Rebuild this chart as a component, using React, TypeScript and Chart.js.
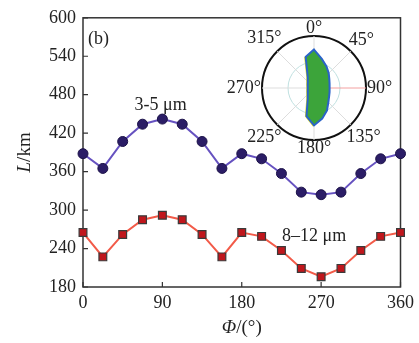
import React, { useEffect, useRef } from 'react';
import { Chart, registerables } from 'chart.js';

Chart.register(...registerables);

// ---- data ----
const PHI = [0, 22.5, 45, 67.5, 90, 112.5, 135, 157.5, 180, 202.5, 225, 247.5, 270, 292.5, 315, 337.5, 360];
const L_3_5 = [388, 365, 407, 434, 442, 434, 407, 365, 388, 380, 357, 328, 324, 328, 357, 380, 388];
const L_8_12 = [265, 227, 262, 285, 292, 285, 262, 227, 265, 259, 237, 209, 196, 209, 237, 259, 265];
const X_TICKS = [0, 90, 180, 270, 360];
const Y_TICKS = [180, 240, 300, 360, 420, 480, 540, 600];
const SERIES_NAMES = ['3-5 μm', '8–12 μm'];
const SERIES_LABEL_POS = [
  { x: 88, y: 463 },
  { x: 262, y: 259 },
];
const PANEL_TAG = '(b)';

// inset polar plot (radius normalised to outer circle), 15° steps clockwise from 0°
const INSET_LABELS = [
  '0°', '', '', '45°', '', '', '90°', '', '', '135°', '', '',
  '180°', '', '', '225°', '', '', '270°', '', '', '315°', '', '',
];
const INSET_R = [
  0.74, 0.58, 0.48, 0.40, 0.34, 0.31, 0.30, 0.31, 0.335, 0.39, 0.50, 0.61,
  0.72, 0.56, 0.24, 0.17, 0.14, 0.125, 0.12, 0.125, 0.14, 0.17, 0.24, 0.62,
];
// left (yellow) edge of the inset shape
const INSET_EDGE = [
  null, null, null, null, null, null, null, null, null, null, null, null,
  0.72, 0.56, 0.24, 0.17, 0.14, 0.125, 0.12, 0.125, 0.14, 0.17, 0.24, 0.62,
];

const SERIF = "'Liberation Serif', 'Times New Roman', serif";
const TXT = '#222';

const framePlugin = {
  id: 'frame',
  beforeDatasetsDraw(chart: any) {
    const { ctx, chartArea: ca, scales } = chart;
    const x = scales.x, y = scales.y;
    ctx.save();
    ctx.strokeStyle = '#333';
    ctx.lineWidth = 1.5;
    ctx.strokeRect(ca.left, ca.top, ca.right - ca.left, ca.bottom - ca.top);
    ctx.lineWidth = 1.2;
    ctx.beginPath();
    for (const v of Y_TICKS) {
      const py = y.getPixelForValue(v);
      ctx.moveTo(ca.left, py);
      ctx.lineTo(ca.left + 5, py);
    }
    for (const v of X_TICKS) {
      const px = x.getPixelForValue(v);
      ctx.moveTo(px, ca.bottom);
      ctx.lineTo(px, ca.bottom - 5);
    }
    ctx.stroke();
    ctx.restore();
  },
  afterDraw(chart: any) {
    const { ctx, chartArea: ca, scales } = chart;
    const x = scales.x, y = scales.y;
    ctx.save();
    ctx.fillStyle = TXT;
    ctx.textBaseline = 'middle';
    ctx.font = `18px ${SERIF}`;
    ctx.textAlign = 'left';
    ctx.fillText(PANEL_TAG, ca.left + 5, ca.top + 21);
    ctx.textAlign = 'center';
    SERIES_NAMES.forEach((n, i) => {
      const p = SERIES_LABEL_POS[i];
      ctx.fillText(n, x.getPixelForValue(p.x), y.getPixelForValue(p.y));
    });
    const midY = (ca.top + ca.bottom) / 2;
    ctx.save();
    ctx.translate(25, midY);
    ctx.rotate(-Math.PI / 2);
    ctx.font = `italic 19px ${SERIF}`;
    const wL = ctx.measureText('L').width;
    ctx.font = `19px ${SERIF}`;
    const wR = ctx.measureText('/km').width;
    const start = -(wL + wR) / 2;
    ctx.textAlign = 'left';
    ctx.font = `italic 19px ${SERIF}`;
    ctx.fillText('L', start, 0);
    ctx.font = `19px ${SERIF}`;
    ctx.fillText('/km', start + wL, 0);
    ctx.restore();
    ctx.font = `italic 19px ${SERIF}`;
    const wP = ctx.measureText('Φ').width;
    ctx.font = `19px ${SERIF}`;
    const wQ = ctx.measureText('/(°)').width;
    const cx = (ca.left + ca.right) / 2;
    const sx = cx - (wP + wQ) / 2;
    ctx.textAlign = 'left';
    ctx.font = `italic 19px ${SERIF}`;
    ctx.fillText('Φ', sx, 328);
    ctx.font = `19px ${SERIF}`;
    ctx.fillText('/(°)', sx + wP, 328);
    ctx.restore();
  },
};

const insetLabelsPlugin = {
  id: 'insetLabels',
  afterDraw(chart: any) {
    const s = chart.scales.r;
    const ctx = chart.ctx;
    ctx.save();
    ctx.font = `18px ${SERIF}`;
    ctx.fillStyle = TXT;
    ctx.textAlign = 'center';
    ctx.textBaseline = 'middle';
    INSET_LABELS.forEach((t, i) => {
      if (!t) return;
      const w = ctx.measureText(t).width;
      const a = s.getIndexAngle(i) - Math.PI / 2;
      const ext = Math.abs(Math.cos(a)) * w / 2 + Math.abs(Math.sin(a)) * 7;
      const p = s.getPointPosition(i, s.drawingArea + 1 + ext);
      ctx.fillText(t, p.x, p.y);
    });
    ctx.restore();
  },
};

const INSET_W = 240;
const INSET_H = 172;
const INSET_R_PX = 52;
const INSET_CX = 314;
const INSET_CY = 88;

export default function App() {
  const mainRef = useRef<HTMLCanvasElement>(null);
  const insetRef = useRef<HTMLCanvasElement>(null);

  useEffect(() => {
    const main = new Chart(mainRef.current as HTMLCanvasElement, {
      type: 'line',
      data: {
        datasets: [
          {
            label: SERIES_NAMES[0],
            data: PHI.map((p, i) => ({ x: p, y: L_3_5[i] })),
            borderColor: '#6652c0',
            borderWidth: 2,
            pointStyle: 'circle',
            pointRadius: 5,
            pointBackgroundColor: '#2b1d66',
            pointBorderColor: '#1c1248',
            pointBorderWidth: 1,
            clip: false,
            tension: 0,
          },
          {
            label: SERIES_NAMES[1],
            data: PHI.map((p, i) => ({ x: p, y: L_8_12[i] })),
            borderColor: '#f25a48',
            borderWidth: 2,
            pointStyle: 'rect',
            pointRadius: 5.5,
            pointBackgroundColor: '#c0161c',
            pointBorderColor: '#3a3a3a',
            pointBorderWidth: 1.2,
            clip: false,
            tension: 0,
          },
        ],
      } as any,
      options: {
        responsive: false,
        animation: false,
        layout: { padding: { top: 14, right: 16, left: 0, bottom: 0 } },
        plugins: { legend: { display: false }, tooltip: { enabled: false } },
        scales: {
          x: {
            type: 'linear',
            min: 0,
            max: 360,
            afterBuildTicks: (s: any) => { s.ticks = X_TICKS.map((v) => ({ value: v })); },
            afterFit: (s: any) => { s.height = 56; },
            grid: { display: false, drawTicks: false },
            border: { display: false },
            ticks: { font: { family: SERIF, size: 18 }, color: TXT, padding: 5, maxRotation: 0, autoSkip: false },
          },
          y: {
            type: 'linear',
            min: 180,
            max: 600,
            afterBuildTicks: (s: any) => { s.ticks = Y_TICKS.map((v) => ({ value: v })); },
            afterFit: (s: any) => { s.width = 83; },
            grid: { display: false, drawTicks: false },
            border: { display: false },
            ticks: { font: { family: SERIF, size: 18 }, color: TXT, padding: 7, autoSkip: false },
          },
        },
      } as any,
      plugins: [framePlugin],
    });

    const padX = (INSET_W - 2 * INSET_R_PX) / 2;
    const padY = (INSET_H - 2 * INSET_R_PX) / 2;
    const inset = new Chart(insetRef.current as HTMLCanvasElement, {
      type: 'radar',
      data: {
        labels: INSET_LABELS,
        datasets: [
          {
            data: INSET_R,
            fill: true,
            backgroundColor: '#3ca43a',
            borderColor: '#2a63c8',
            borderWidth: 2,
            pointRadius: 0,
          },
          {
            data: INSET_EDGE,
            fill: false,
            borderColor: '#e6e21e',
            borderWidth: 3,
            pointRadius: 0,
            spanGaps: false,
          },
        ],
      } as any,
      options: {
        responsive: false,
        animation: false,
        layout: { padding: { left: padX, right: padX, top: padY, bottom: padY } },
        plugins: { legend: { display: false }, tooltip: { enabled: false } },
        scales: {
          r: {
            min: 0,
            max: 1,
            ticks: { display: false, stepSize: 0.5 },
            grid: {
              circular: true,
              color: (c: any) => (c.index === 2 ? '#111' : '#bfe0e0'),
              lineWidth: (c: any) => (c.index === 2 ? 2 : 1),
            },
            angleLines: {
              color: (c: any) => (c.index % 3 === 0 ? (c.index === 6 ? '#f3a0a0' : '#dddddd') : 'rgba(0,0,0,0)'),
              lineWidth: 1,
            },
            pointLabels: { display: false },
          },
        },
      } as any,
      plugins: [insetLabelsPlugin],
    });

    return () => {
      main.destroy();
      inset.destroy();
    };
  }, []);

  return (
    <div style={{ position: 'fixed', left: 0, top: 0, width: 419, height: 343, background: '#fff' }}>
      <canvas ref={mainRef} width={419} height={343} style={{ position: 'absolute', left: 0, top: 0 }} />
      <canvas
        ref={insetRef}
        width={INSET_W}
        height={INSET_H}
        style={{ position: 'absolute', left: INSET_CX - INSET_W / 2, top: INSET_CY - INSET_H / 2 }}
      />
    </div>
  );
}
